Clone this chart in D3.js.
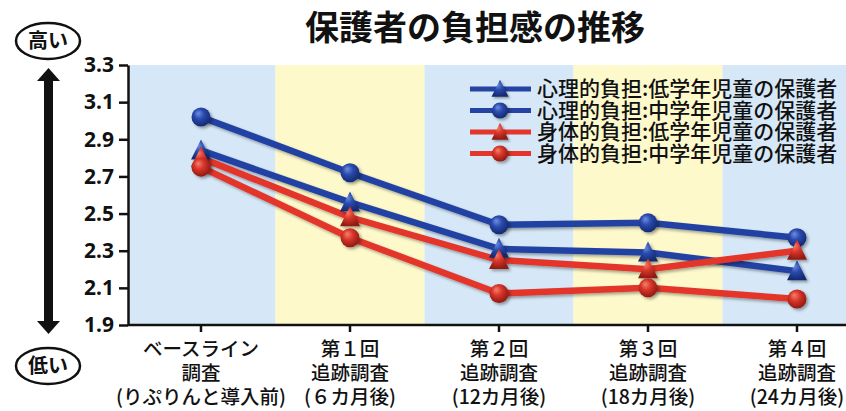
<!DOCTYPE html>
<html>
<head>
<meta charset="utf-8">
<script src="https://cdn.jsdelivr.net/npm/d3@7"></script>
<style>
  html, body { margin: 0; padding: 0; background: #fff; }
  svg { display: block; font-family: "Noto Sans CJK JP", "Noto Sans", sans-serif; }
</style>
</head>
<body>
<svg id="chart" width="846" height="411"></svg>
<script>
// Survey rounds (x categories), three label lines each
const categories = ["base", "r1", "r2", "r3", "r4"]
const labelLine1 = ["ベースライン", "第１回", "第２回", "第３回", "第４回"]
const labelLine2 = ["調査", "追跡調査", "追跡調査", "追跡調査", "追跡調査"]
const labelLine3 = ["(りぷりんと導入前)", "(６カ月後)", "(12カ月後)", "(18カ月後)", "(24カ月後)"]

// Series values
const psychLower = [2.84, 2.56, 2.31, 2.29, 2.19]   // 心理的負担：低学年
const psychMiddle = [3.02, 2.72, 2.44, 2.45, 2.37]  // 心理的負担：中学年
const physLower = [2.80, 2.48, 2.25, 2.20, 2.30]    // 身体的負担：低学年
const physMiddle = [2.75, 2.37, 2.07, 2.10, 2.04]   // 身体的負担：中学年

const seriesNames = [
    "心理的負担:低学年児童の保護者",
    "心理的負担:中学年児童の保護者",
    "身体的負担:低学年児童の保護者",
    "身体的負担:中学年児童の保護者"
]

const yTicks = [1.9, 2.1, 2.3, 2.5, 2.7, 2.9, 3.1, 3.3]
const bandColors = ["#d6e8f7", "#fdf9cb", "#d6e8f7", "#fdf9cb", "#d6e8f7"]

const series = [
    {name: seriesNames[0], values: psychLower, color: "#2443a3", marker: "tri", grad: "gBlue"},
    {name: seriesNames[1], values: psychMiddle, color: "#2443a3", marker: "dot", grad: "gBlue"},
    {name: seriesNames[2], values: physLower, color: "#e3352b", marker: "tri", grad: "gRed"},
    {name: seriesNames[3], values: physMiddle, color: "#e3352b", marker: "dot", grad: "gRed"}
]

const svg = d3.select("#chart")
const axisX = 128, axisBottom = 325, axisTop = 65

const x = d3.scaleBand().domain(categories).range([126.5, 871.5])
const cx = d => x(d) + x.bandwidth() / 2
const y = d3.scaleLinear().domain([1.9, 3.3]).range([axisBottom, axisTop])

// Gradients and shadow
const defs = svg.append("defs")
function sphere(id, light, base, dark) {
    const g = defs.append("radialGradient").attr("id", id)
        .attr("cx", "45%").attr("cy", "40%").attr("r", "60%").attr("fx", "35%").attr("fy", "30%")
    g.append("stop").attr("offset", "0%").attr("stop-color", light)
    g.append("stop").attr("offset", "45%").attr("stop-color", base)
    g.append("stop").attr("offset", "100%").attr("stop-color", dark)
}
sphere("gBlue", "#6f8fe0", "#2a4aae", "#142a70")
sphere("gRed", "#f3826c", "#d9352a", "#8e1a12")
const sh = defs.append("filter").attr("id", "shadow").attr("x", "-50%").attr("y", "-50%").attr("width", "200%").attr("height", "200%")
sh.append("feDropShadow").attr("dx", 2).attr("dy", 2).attr("stdDeviation", 1.5)
    .attr("flood-color", "#000").attr("flood-opacity", 0.35)
const clip = defs.append("clipPath").attr("id", "plotClip")
clip.append("rect").attr("x", axisX).attr("y", axisTop).attr("width", 846 - axisX).attr("height", axisBottom - axisTop)

// Background bands
svg.append("g").attr("clip-path", "url(#plotClip)")
    .selectAll("rect").data(categories).join("rect")
    .attr("x", d => x(d)).attr("y", axisTop)
    .attr("width", x.bandwidth()).attr("height", axisBottom - axisTop)
    .attr("fill", (d, i) => bandColors[i])

// Title
svg.append("text").attr("x", 475).attr("y", 40).attr("text-anchor", "middle")
    .attr("font-size", 34).attr("font-weight", "bold").attr("fill", "#111")
    .text("保護者の負担感の推移")

// Y axis
const yAxis = svg.append("g").attr("transform", `translate(${axisX},0)`)
    .call(d3.axisLeft(y).tickValues(yTicks).tickFormat(d3.format(".1f")).tickSize(9).tickSizeOuter(0))
yAxis.select(".domain").attr("stroke", "#111").attr("stroke-width", 2.5)
yAxis.selectAll(".tick line").attr("stroke", "#111").attr("stroke-width", 2.5)
yAxis.selectAll(".tick text").attr("font-size", 21).attr("font-weight", "bold")
    .attr("fill", "#111").attr("x", -14).attr("font-family", "'Noto Sans', sans-serif")

// X axis
const xAxis = svg.append("g").attr("transform", `translate(0,${axisBottom})`)
    .call(d3.axisBottom(x).tickSize(7).tickSizeOuter(0).tickFormat(""))
xAxis.select(".domain").attr("d", `M${axisX},0H846`).attr("stroke", "#111").attr("stroke-width", 2.5)
xAxis.selectAll(".tick line").attr("stroke", "#111").attr("stroke-width", 2.5)

const xl = svg.append("g").attr("font-size", 19.5).attr("font-weight", 500).attr("fill", "#111").attr("text-anchor", "middle")
;[labelLine1, labelLine2, labelLine3].forEach((lines, li) => {
    xl.selectAll(null).data(categories).join("text")
        .attr("x", d => cx(d)).attr("y", 356 + li * 24)
        .text((d, i) => lines[i])
})

// Lines and markers
const triPath = "M0,-11L10,9L-10,9Z"
const line = d3.line().x((v, i) => cx(categories[i])).y(v => y(v))
const plot = svg.append("g")
series.forEach(s => {
    plot.append("path").datum(s.values).attr("d", line)
        .attr("fill", "none").attr("stroke", s.color).attr("stroke-width", 6.5)
        .attr("filter", "url(#shadow)")
})
function drawMarker(g, s, px, py, scale) {
    if (s.marker === "dot") {
        g.append("circle").attr("cx", px).attr("cy", py).attr("r", 9.5 * scale)
            .attr("fill", `url(#${s.grad})`).attr("filter", "url(#shadow)")
    } else {
        g.append("path").attr("d", triPath)
            .attr("transform", `translate(${px},${py}) scale(${scale})`)
            .attr("fill", `url(#${s.grad})`).attr("filter", "url(#shadow)")
    }
}
series.forEach(s => {
    s.values.forEach((v, i) => drawMarker(plot, s, cx(categories[i]), y(v), 1))
})

// Legend
const legend = svg.append("g")
series.forEach((s, i) => {
    const ly = 89 + i * 21.5
    legend.append("line").attr("x1", 470).attr("x2", 531).attr("y1", ly).attr("y2", ly)
        .attr("stroke", s.color).attr("stroke-width", 5)
    drawMarker(legend, s, 500, ly, 0.85)
    legend.append("text").attr("x", 537).attr("y", ly + 7)
        .attr("font-size", 21).attr("font-weight", 500).attr("fill", "#111")
        .text(s.name)
})

// Left arrow with high/low labels
const arrow = svg.append("g").attr("fill", "#111")
arrow.append("rect").attr("x", 44).attr("y", 78).attr("width", 9).attr("height", 244)
arrow.append("path").attr("d", "M48.5,68L60,81L37,81Z")
arrow.append("path").attr("d", "M48.5,334L60,321L37,321Z")
;[["高い", 41], ["低い", 366]].forEach(([t, cy]) => {
    svg.append("ellipse").attr("cx", 48).attr("cy", cy).attr("rx", 32).attr("ry", 18)
        .attr("fill", "#fff").attr("stroke", "#111").attr("stroke-width", 2.5)
    svg.append("text").attr("x", 48).attr("y", cy + 7).attr("text-anchor", "middle")
        .attr("font-size", 20).attr("font-weight", "bold").attr("fill", "#111").text(t)
})
</script>
</body>
</html>
